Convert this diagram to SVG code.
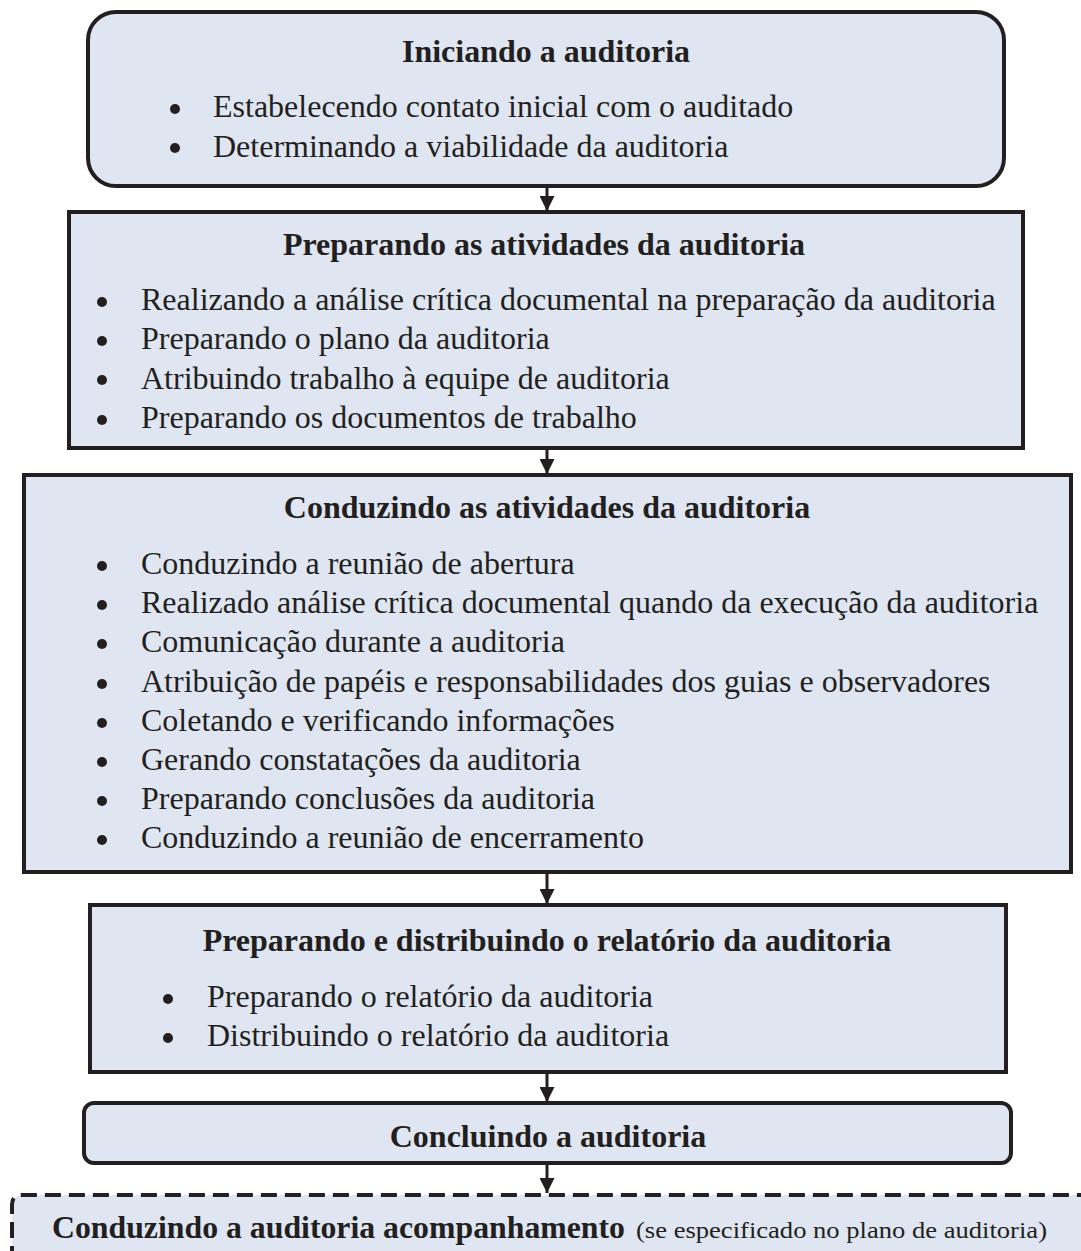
<svg xmlns="http://www.w3.org/2000/svg" width="1081" height="1251" viewBox="0 0 1081 1251">
  <defs>
    <marker id="arrow" viewBox="0 0 10 10" refX="10" refY="5" markerWidth="5" markerHeight="5" orient="auto" markerUnits="strokeWidth">
      <path d="M0,0 L10,5 L0,10 z" fill="#231f20"/>
    </marker>
    <style>
      .box { fill: #dfe6f1; stroke: #231f20; stroke-width: 4; }
      .dash { fill: #dfe6f1; stroke: #231f20; stroke-width: 4; stroke-dasharray: 16 8; }
      .title { font-family: "Liberation Serif", "Times New Roman", serif; font-weight: bold; font-size: 32px; fill: #231f20; text-anchor: middle; }
      .item { font-family: "Liberation Serif", "Times New Roman", serif; font-size: 32px; fill: #231f20; }
      .small { font-family: "Liberation Serif", "Times New Roman", serif; font-size: 24px; fill: #231f20; }
      .dot { fill: #231f20; }
      .conn { stroke: #231f20; stroke-width: 3; fill: none; marker-end: url(#arrow); }
    </style>
  </defs>

  <rect width="1081" height="1251" fill="#ffffff"/>

  <!-- connectors between stages -->
  <g id="connectors">
    <line class="conn" x1="547" y1="186" x2="547" y2="211"/>
    <line class="conn" x1="547" y1="448" x2="547" y2="474"/>
    <line class="conn" x1="547" y1="872" x2="547" y2="904"/>
    <line class="conn" x1="547" y1="1072" x2="547" y2="1102"/>
    <line class="conn" x1="547" y1="1163" x2="547" y2="1193"/>
  </g>

  <g id="iniciando">
    <rect class="box" x="88" y="12" width="916" height="174" rx="28"/>
    <text class="title" x="546" y="62">Iniciando a auditoria</text>
    <circle class="dot" cx="175" cy="109" r="5"/>
    <text class="item" x="213" y="117">Estabelecendo contato inicial com o auditado</text>
    <circle class="dot" cx="175" cy="148" r="5"/>
    <text class="item" x="213" y="157">Determinando a viabilidade da auditoria</text>
  </g>

  <g id="preparando">
    <rect class="box" x="69" y="212" width="954" height="236"/>
    <text class="title" x="544" y="255">Preparando as atividades da auditoria</text>
    <circle class="dot" cx="102" cy="302" r="5"/>
    <text class="item" x="141" y="310">Realizando a análise crítica documental na preparação da auditoria</text>
    <circle class="dot" cx="102" cy="341" r="5"/>
    <text class="item" x="141" y="349">Preparando o plano da auditoria</text>
    <circle class="dot" cx="102" cy="380" r="5"/>
    <text class="item" x="141" y="389">Atribuindo trabalho à equipe de auditoria</text>
    <circle class="dot" cx="102" cy="420" r="5"/>
    <text class="item" x="141" y="428">Preparando os documentos de trabalho</text>
  </g>

  <g id="conduzindo">
    <rect class="box" x="24" y="475" width="1047" height="397"/>
    <text class="title" x="547" y="518">Conduzindo as atividades da auditoria</text>
    <circle class="dot" cx="102" cy="566" r="5"/>
    <text class="item" x="141" y="574">Conduzindo a reunião de abertura</text>
    <circle class="dot" cx="102" cy="605" r="5"/>
    <text class="item" x="141" y="613">Realizado análise crítica documental quando da execução da auditoria</text>
    <circle class="dot" cx="102" cy="644" r="5"/>
    <text class="item" x="141" y="652">Comunicação durante a auditoria</text>
    <circle class="dot" cx="102" cy="684" r="5"/>
    <text class="item" x="141" y="692">Atribuição de papéis e responsabilidades dos guias e observadores</text>
    <circle class="dot" cx="102" cy="723" r="5"/>
    <text class="item" x="141" y="731">Coletando e verificando informações</text>
    <circle class="dot" cx="102" cy="762" r="5"/>
    <text class="item" x="141" y="770">Gerando constatações da auditoria</text>
    <circle class="dot" cx="102" cy="801" r="5"/>
    <text class="item" x="141" y="809">Preparando conclusões da auditoria</text>
    <circle class="dot" cx="102" cy="840" r="5"/>
    <text class="item" x="141" y="848">Conduzindo a reunião de encerramento</text>
  </g>

  <g id="relatorio">
    <rect class="box" x="90" y="905" width="916" height="167"/>
    <text class="title" x="547" y="951">Preparando e distribuindo o relatório da auditoria</text>
    <circle class="dot" cx="168" cy="999" r="5"/>
    <text class="item" x="207" y="1007">Preparando o relatório da auditoria</text>
    <circle class="dot" cx="168" cy="1038" r="5"/>
    <text class="item" x="207" y="1046">Distribuindo o relatório da auditoria</text>
  </g>

  <g id="concluindo">
    <rect class="box" x="84" y="1103" width="927" height="60" rx="10"/>
    <text class="title" x="548" y="1147">Concluindo a auditoria</text>
  </g>

  <g id="acompanhamento">
    <path class="dash" d="M12,1262 L12,1205 Q12,1195 22,1195 L1085,1195 L1085,1262"/>
    <text class="title" x="52" y="1238" style="text-anchor:start" textLength="573" lengthAdjust="spacingAndGlyphs">Conduzindo a auditoria acompanhamento</text>
    <text class="small" x="636" y="1238" textLength="411" lengthAdjust="spacingAndGlyphs">(se especificado no plano de auditoria)</text>
  </g>
</svg>
